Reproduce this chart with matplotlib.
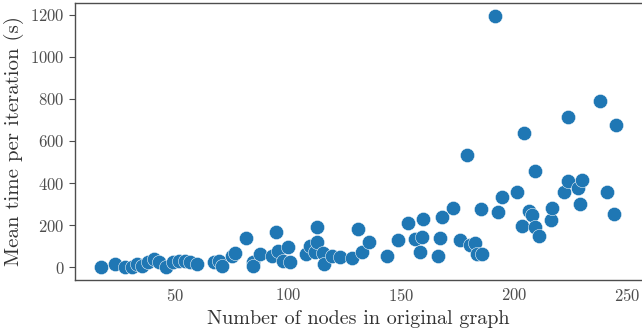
import numpy as np
import matplotlib
matplotlib.use("Agg")
import matplotlib.pyplot as plt

# Nodi del grafo originale e tempo medio per iterazione (s)
nodes = [17.4, 23.6, 28.0, 31.1, 33.3, 35.5, 38.1, 40.8, 42.9, 46.0,
         49.1, 51.8, 54.4, 57.0, 60.1, 67.2, 69.4, 71.1, 75.5, 76.8,
         81.7, 84.8, 84.8, 87.8, 93.1, 94.9, 95.8, 98.0, 100.2, 101.0,
         108.1, 109.8, 112.1, 112.9, 112.9, 115.6, 116.0, 119.5, 123.1, 128.3,
         131.0, 132.7, 135.8, 143.7, 148.6, 153.0, 156.1, 158.3, 159.2, 159.6,
         166.2, 167.1, 167.9, 172.8, 175.9, 179.0, 180.3, 182.5, 183.4, 185.6,
         185.1, 191.3, 193.0, 194.4, 201.0, 203.2, 204.1, 206.3, 207.6, 209.3,
         209.3, 211.1, 216.4, 216.8, 222.1, 223.8, 223.8, 228.2, 229.1, 230.0,
         237.9, 241.0, 244.1, 245.0]
times = [1, 16, 1, 1, 16, 6, 25, 39, 25, 0,
         25, 30, 30, 25, 16, 25, 30, 6, 54, 68,
         139, 25, 6, 63, 54, 167, 77, 30, 96, 25,
         63, 101, 72, 191, 120, 68, 16, 54, 50, 44,
         181, 72, 120, 54, 129, 210, 134, 72, 144, 229,
         54, 139, 238, 281, 129, 532, 106, 115, 63, 63,
         276, 1195, 262, 333, 357, 196, 636, 267, 248, 456,
         191, 148, 224, 281, 357, 409, 712, 376, 300, 414,
         788, 357, 252, 674]

plt.rcParams['font.family'] = ['cmr10', 'DejaVu Serif']
plt.rcParams['axes.formatter.use_mathtext'] = True
plt.rcParams['mathtext.fontset'] = 'cm'

fig = plt.figure(figsize=(6.42, 3.30), dpi=100)
ax = fig.add_axes([0.1168, 0.1515, 0.8832, 0.8395])

ax.scatter(nodes, times, s=105, color='#1f77b4', edgecolor='white', linewidth=0.35, zorder=3)

ax.set_xlabel('Number of nodes in original graph', fontsize=14.5, color='.2')
ax.set_ylabel('Mean time per iteration (s)', fontsize=15, color='.2')
ax.set_xticks([50, 100, 150, 200, 250])
ax.set_yticks([0, 200, 400, 600, 800, 1000, 1200])
ax.tick_params(axis='x', length=0, labelsize=12, labelcolor='.3', pad=5)
ax.tick_params(axis='y', length=4, width=0.8, color='.3', labelsize=12, labelcolor='.3')
for sp in ax.spines.values():
    sp.set_color('.3')
    sp.set_linewidth(1.0)
ax.spines['right'].set_visible(False)

fig.savefig('out.png', dpi=100)
